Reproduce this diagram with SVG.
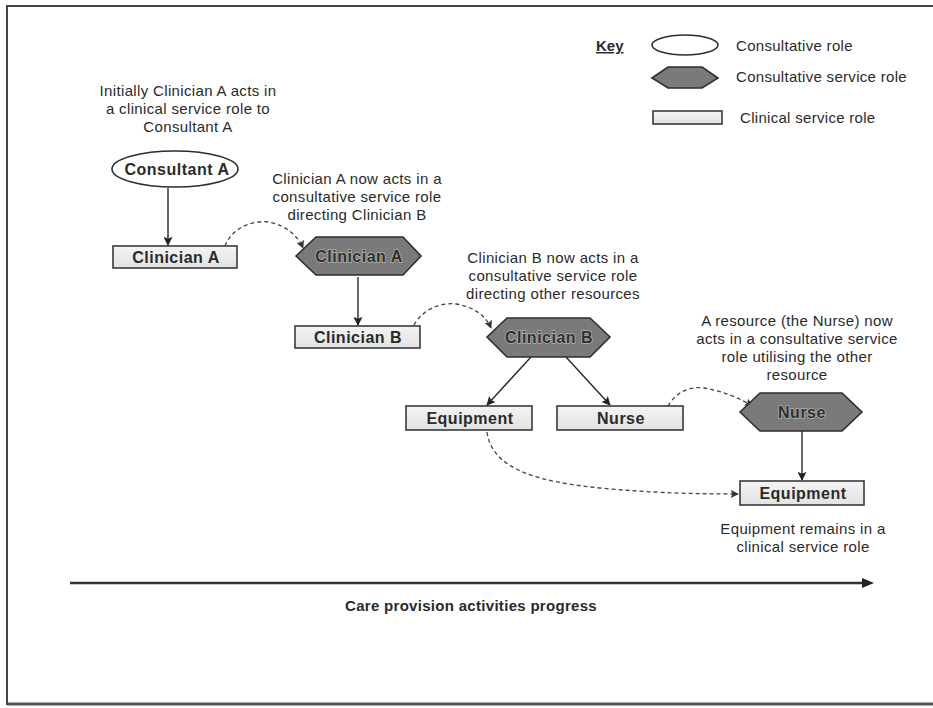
<svg xmlns="http://www.w3.org/2000/svg" width="933" height="708" viewBox="0 0 933 708">
<defs>
<marker id="ah" viewBox="0 0 10 10" refX="9" refY="5" markerWidth="9" markerHeight="9" markerUnits="userSpaceOnUse" orient="auto">
<path d="M0,0 L10,5 L0,10 L2,5 Z" fill="#222"/>
</marker>
<marker id="ahd" viewBox="0 0 10 10" refX="9" refY="5" markerWidth="8" markerHeight="8" markerUnits="userSpaceOnUse" orient="auto">
<path d="M0,0 L10,5 L0,10 L2,5 Z" fill="#333"/>
</marker>
<linearGradient id="rg" x1="0" y1="0" x2="0" y2="1">
<stop offset="0" stop-color="#f4f4f4"/>
<stop offset="1" stop-color="#e2e2e2"/>
</linearGradient>
</defs>
<style>
text{font-family:"Liberation Sans",Arial,sans-serif;fill:#2a2a2a}
.ann{font-size:15px;letter-spacing:0.35px;text-anchor:middle}
.lbl{font-size:16px;font-weight:bold;letter-spacing:0.5px;text-anchor:middle}
.hl{font-size:16px;font-weight:bold;letter-spacing:0.5px;text-anchor:middle;fill:#2e2e2e;stroke:#b0b0b0;stroke-width:1.6px;paint-order:stroke}
.rect{fill:url(#rg);stroke:#3a3a3a;stroke-width:1.6}
.hex{fill:#7a7a7a;stroke:#2e2e2e;stroke-width:1.6}
.ell{fill:#fff;stroke:#2e2e2e;stroke-width:1.6}
.solid{fill:none;stroke:#2a2a2a;stroke-width:1.4;marker-end:url(#ah)}
.dash{fill:none;stroke:#444;stroke-width:1.3;stroke-dasharray:4 3;marker-end:url(#ahd)}
.key{font-size:15px;letter-spacing:0.3px}
</style>
<rect x="0" y="0" width="933" height="708" fill="#ffffff"/>
<path d="M7,705 L7,6 L933,6" fill="none" stroke="#444" stroke-width="2"/>
<path d="M7,704 L933,704" fill="none" stroke="#555" stroke-width="3"/>

<g id="legend">
<text x="596" y="51" style="font-size:15px;font-weight:bold;text-decoration:underline">Key</text>
<ellipse class="ell" cx="685" cy="45" rx="33" ry="10"/>
<text class="key" x="736" y="51">Consultative role</text>
<polygon class="hex" points="652,78 668,67 702,67 718,78 702,88 668,88"/>
<text class="key" x="736" y="82">Consultative service role</text>
<rect class="rect" x="653" y="111" width="69" height="13"/>
<text class="key" x="740" y="123">Clinical service role</text>
</g>

<g id="annotations">
<text class="ann" x="188" y="96">Initially Clinician A acts in</text>
<text class="ann" x="188" y="114">a clinical service role to</text>
<text class="ann" x="188" y="132">Consultant A</text>
<text class="ann" x="357" y="184">Clinician A now acts in a</text>
<text class="ann" x="357" y="202">consultative service role</text>
<text class="ann" x="357" y="220">directing Clinician B</text>
<text class="ann" x="553" y="263">Clinician B now acts in a</text>
<text class="ann" x="553" y="281">consultative service role</text>
<text class="ann" x="553" y="299">directing other resources</text>
<text class="ann" x="797" y="326">A resource (the Nurse) now</text>
<text class="ann" x="797" y="344">acts in a consultative service</text>
<text class="ann" x="797" y="362">role utilising the other</text>
<text class="ann" x="797" y="380">resource</text>
<text class="ann" x="803" y="534">Equipment remains in a</text>
<text class="ann" x="803" y="552">clinical service role</text>
</g>

<g id="connectors">
<path class="solid" d="M168,188 L168,245"/>
<path class="dash" d="M225,246 C232,228 252,220 268,222 C286,225 298,236 303,248"/>
<path class="solid" d="M358,277 L358,325"/>
<path class="dash" d="M414,325 C422,310 440,302 456,304 C474,307 486,316 491,328"/>
<path class="solid" d="M531,357 L487,405"/>
<path class="solid" d="M566,357 L610,405"/>
<path class="dash" d="M668,406 C676,392 690,386 704,388 C722,391 740,398 752,406"/>
<path class="solid" d="M802,431 L802,480"/>
<path class="dash" d="M487,432 C492,470 540,482 600,488 C650,493 700,494 738,494"/>
<path d="M70,583 L866,583" fill="none" stroke="#333" stroke-width="2.6"/>
<path d="M862,578 L874,583 L862,588 Z" fill="#222"/>
</g>

<g id="consultant-a">
<ellipse class="ell" cx="175" cy="169" rx="63" ry="18"/>
<text class="lbl" x="177" y="175">Consultant A</text>
</g>
<g id="clinician-a-rect">
<rect class="rect" x="113" y="246" width="124" height="22"/>
<text class="lbl" x="176" y="263">Clinician A</text>
</g>
<g id="clinician-a-hex">
<polygon class="hex" points="296,256 316,237 403,237 421,256 403,275 316,275"/>
<text class="hl" x="359" y="262">Clinician A</text>
</g>
<g id="clinician-b-rect">
<rect class="rect" x="295" y="326" width="125" height="22"/>
<text class="lbl" x="358" y="343">Clinician B</text>
</g>
<g id="clinician-b-hex">
<polygon class="hex" points="487,337 507,318 590,318 610,337 590,357 507,357"/>
<text class="hl" x="549" y="343">Clinician B</text>
</g>
<g id="equipment-1">
<rect class="rect" x="406" y="406" width="126" height="24"/>
<text class="lbl" x="470" y="424">Equipment</text>
</g>
<g id="nurse-rect">
<rect class="rect" x="557" y="406" width="126" height="24"/>
<text class="lbl" x="621" y="424">Nurse</text>
</g>
<g id="nurse-hex">
<polygon class="hex" points="740,412 760,393 842,393 862,412 842,431 760,431"/>
<text class="hl" x="802" y="418">Nurse</text>
</g>
<g id="equipment-2">
<rect class="rect" x="740" y="481" width="124" height="24"/>
<text class="lbl" x="803" y="499">Equipment</text>
</g>
<g id="timeline-label">
<text class="lbl" x="471" y="611" style="font-size:15px;letter-spacing:0.3px">Care provision activities progress</text>
</g>
</svg>
